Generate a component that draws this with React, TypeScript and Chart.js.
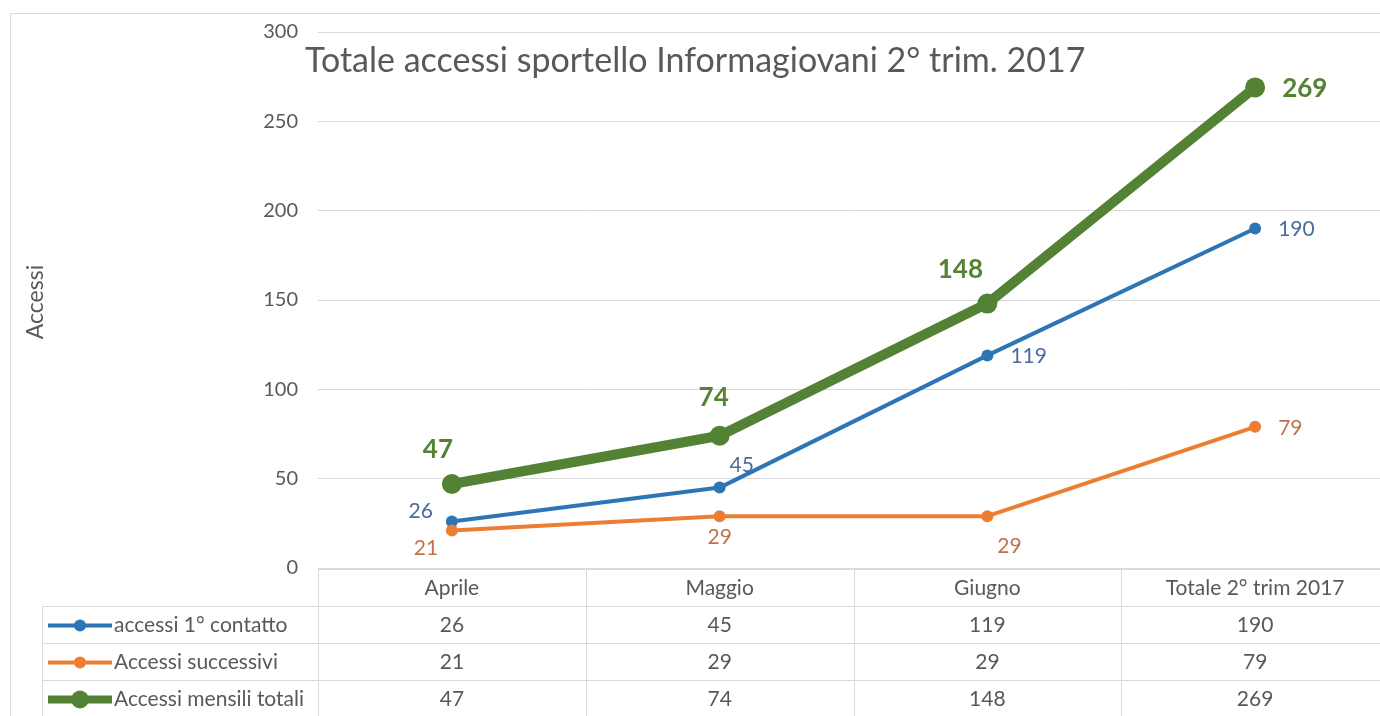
import React, { useEffect, useRef } from "react";
import { Chart, registerables } from "chart.js";

Chart.register(...registerables);

const categories = ["Aprile", "Maggio", "Giugno", "Totale 2° trim 2017"];
const primoContatto = [26, 45, 119, 190];
const successivi = [21, 29, 29, 79];
const totali = [47, 74, 148, 269];
const seriesNames = ["accessi 1° contatto", "Accessi successivi", "Accessi mensili totali"];
const titleText = "Totale accessi sportello Informagiovani 2° trim. 2017";
const yTitle = "Accessi";
const yMin = 0;
const yMax = 300;
const yStep = 50;

const FONT = "Lato, 'Open Sans', sans-serif";
const TEXT = "#595959";
const GRID = "#D9D9D9";

const seriesStyle = [
  { color: "#2E75B6", label: "#4A6B9E", width: 4, radius: 6, bold: false, size: 21, place: ["left", "aboveRight", "right", "right"], legendWidth: 4, legendRadius: 6 },
  { color: "#ED7D31", label: "#C0734A", width: 4, radius: 6, bold: false, size: 21, place: ["belowLeft", "below", "belowRight", "right"], legendWidth: 4, legendRadius: 6 },
  { color: "#548235", label: "#548235", width: 10, radius: 10, bold: true, size: 26, place: ["aboveLeft", "above", "aboveLeft2", "right"], legendWidth: 8, legendRadius: 9 },
];

const ROW_H = 37;
const TABLE_LEFT = 42;

const frameAndTitle = {
  id: "frameAndTitle",
  beforeDraw(chart: any) {
    const ctx = chart.ctx;
    ctx.save();
    ctx.fillStyle = "#ffffff";
    ctx.fillRect(0, 0, chart.width, chart.height);
    ctx.strokeStyle = GRID;
    ctx.lineWidth = 1;
    ctx.strokeRect(10.5, 13.5, chart.width + 50, chart.height + 50);
    ctx.restore();
  },
  afterDraw(chart: any) {
    const ctx = chart.ctx;
    const area = chart.chartArea;
    ctx.save();
    // title
    ctx.fillStyle = TEXT;
    ctx.font = `34px ${FONT}`;
    ctx.textAlign = "left";
    ctx.textBaseline = "middle";
    ctx.fillText(titleText, area.left - 13, 61);
    // y title
    ctx.save();
    ctx.translate(36, (area.top + area.bottom) / 2 + 2);
    ctx.rotate(-Math.PI / 2);
    ctx.textAlign = "center";
    ctx.font = `23px ${FONT}`;
    ctx.fillText(yTitle, 0, 0);
    ctx.restore();

    // data table
    const x = chart.scales.x;
    const top = area.bottom + 1;
    const n = categories.length;
    const half = (x.getPixelForValue(1) - x.getPixelForValue(0)) / 2;
    const colEdges: number[] = [];
    for (let i = 0; i <= n; i++) colEdges.push(x.getPixelForValue(0) - half + i * half * 2);
    const right = colEdges[n];
    const bottom = top + ROW_H * (seriesNames.length + 1);

    ctx.strokeStyle = GRID;
    ctx.lineWidth = 1;
    ctx.beginPath();
    ctx.moveTo(colEdges[0], top + 0.5);
    ctx.lineTo(right, top + 0.5);
    for (let r = 1; r <= seriesNames.length; r++) {
      const yy = Math.round(top + r * ROW_H) + 0.5;
      ctx.moveTo(TABLE_LEFT, yy);
      ctx.lineTo(right, yy);
    }
    for (let i = 0; i <= n; i++) {
      const xx = Math.round(colEdges[i]) + 0.5;
      ctx.moveTo(xx, top);
      ctx.lineTo(xx, bottom);
    }
    ctx.moveTo(TABLE_LEFT + 0.5, top + ROW_H);
    ctx.lineTo(TABLE_LEFT + 0.5, bottom);
    ctx.stroke();

    const tf = `21px ${FONT}`;
    ctx.fillStyle = TEXT;
    ctx.font = tf;
    ctx.textAlign = "center";
    ctx.textBaseline = "middle";
    categories.forEach((c, i) => {
      ctx.fillText(c, x.getPixelForValue(i), top + ROW_H / 2 + 1);
    });
    const rows = [primoContatto, successivi, totali];
    rows.forEach((vals, r) => {
      const cy = top + ROW_H * (r + 1) + ROW_H / 2 + 1;
      ctx.fillStyle = TEXT;
      ctx.textAlign = "center";
      ctx.font = tf;
      vals.forEach((v, i) => ctx.fillText(String(v), x.getPixelForValue(i), cy));
      const st = seriesStyle[r];
      ctx.strokeStyle = st.color;
      ctx.lineWidth = st.legendWidth;
      ctx.beginPath();
      ctx.moveTo(TABLE_LEFT + 6, cy);
      ctx.lineTo(TABLE_LEFT + 70, cy);
      ctx.stroke();
      ctx.fillStyle = st.color;
      ctx.beginPath();
      ctx.arc(TABLE_LEFT + 38, cy, st.legendRadius, 0, Math.PI * 2);
      ctx.fill();
      ctx.fillStyle = TEXT;
      ctx.textAlign = "left";
      ctx.font = tf;
      ctx.fillText(seriesNames[r], TABLE_LEFT + 72, cy);
    });
    ctx.restore();
  },
};

const valueLabels = {
  id: "valueLabels",
  afterDatasetsDraw(chart: any) {
    const ctx = chart.ctx;
    ctx.save();
    chart.data.datasets.forEach((ds: any, di: number) => {
      const meta = chart.getDatasetMeta(di);
      const st = seriesStyle[ds.styleIndex];
      ctx.fillStyle = st.label;
      ctx.font = `${st.bold ? "bold " : ""}${st.size}px ${FONT}`;
      ctx.textBaseline = "middle";
      meta.data.forEach((pt: any, i: number) => {
        const v = String(ds.data[i]);
        const p = st.place[i];
        let tx = pt.x;
        let ty = pt.y;
        let align: CanvasTextAlign = "center";
        const gap = st.radius + 8;
        switch (p) {
          case "above": ty -= gap + 20; tx -= 6; break;
          case "aboveLeft": ty -= gap + 16; tx -= 14; break;
          case "aboveLeft2": ty -= gap + 16; tx -= 27; break;
          case "aboveRight": ty -= 22; tx += 22; break;
          case "below": ty += 21; break;
          case "belowLeft": ty += 18; tx -= 26; break;
          case "belowRight": ty += 30; tx += 22; break;
          case "left": ty -= 10; tx -= gap + 5; align = "right"; break;
          case "right": tx += gap + 9; align = "left"; ty += 1; break;
        }
        ctx.textAlign = align;
        ctx.fillText(v, tx, ty);
      });
    });
    ctx.restore();
  },
};

export default function App() {
  const ref = useRef<HTMLCanvasElement | null>(null);
  useEffect(() => {
    if (!ref.current) return;
    const datasets = [
      { label: seriesNames[0], data: primoContatto, styleIndex: 0, order: 2 },
      { label: seriesNames[1], data: successivi, styleIndex: 1, order: 1 },
      { label: seriesNames[2], data: totali, styleIndex: 2, order: 0 },
    ].map((d) => {
      const st = seriesStyle[d.styleIndex];
      return {
        ...d,
        borderColor: st.color,
        backgroundColor: st.color,
        pointBackgroundColor: st.color,
        pointBorderColor: st.color,
        borderWidth: st.width,
        pointRadius: st.radius,
        pointBorderWidth: 0,
        tension: 0,
        fill: false,
        borderCapStyle: "round" as const,
        borderJoinStyle: "round" as const,
      };
    });
    const chart = new Chart(ref.current, {
      type: "line",
      data: { labels: categories, datasets },
      options: {
        animation: false,
        responsive: false,
        devicePixelRatio: 1,
        layout: { padding: { left: 0, top: 28, right: 11, bottom: 148 } },
        plugins: { legend: { display: false }, tooltip: { enabled: false }, title: { display: false } },
        scales: {
          x: {
            type: "category",
            offset: true,
            grid: { display: false },
            border: { display: false },
            ticks: { display: false },
            afterFit: (s: any) => { s.height = 0; },
          },
          y: {
            min: yMin,
            max: yMax,
            ticks: { stepSize: yStep, color: TEXT, font: { family: FONT, size: 20 }, padding: 20 },
            grid: { color: GRID, lineWidth: 1, drawTicks: false },
            border: { display: false },
            afterFit: (s: any) => { s.width = 318; },
          },
        },
      },
      plugins: [frameAndTitle, valueLabels],
    });
    return () => chart.destroy();
  }, []);
  return (
    <div style={{ position: "fixed", left: 0, top: 0, width: 1380, height: 716, overflow: "hidden", background: "#fff" }}>
      <canvas ref={ref} width={1400} height={716} style={{ width: 1400, height: 716, display: "block" }} />
    </div>
  );
}
